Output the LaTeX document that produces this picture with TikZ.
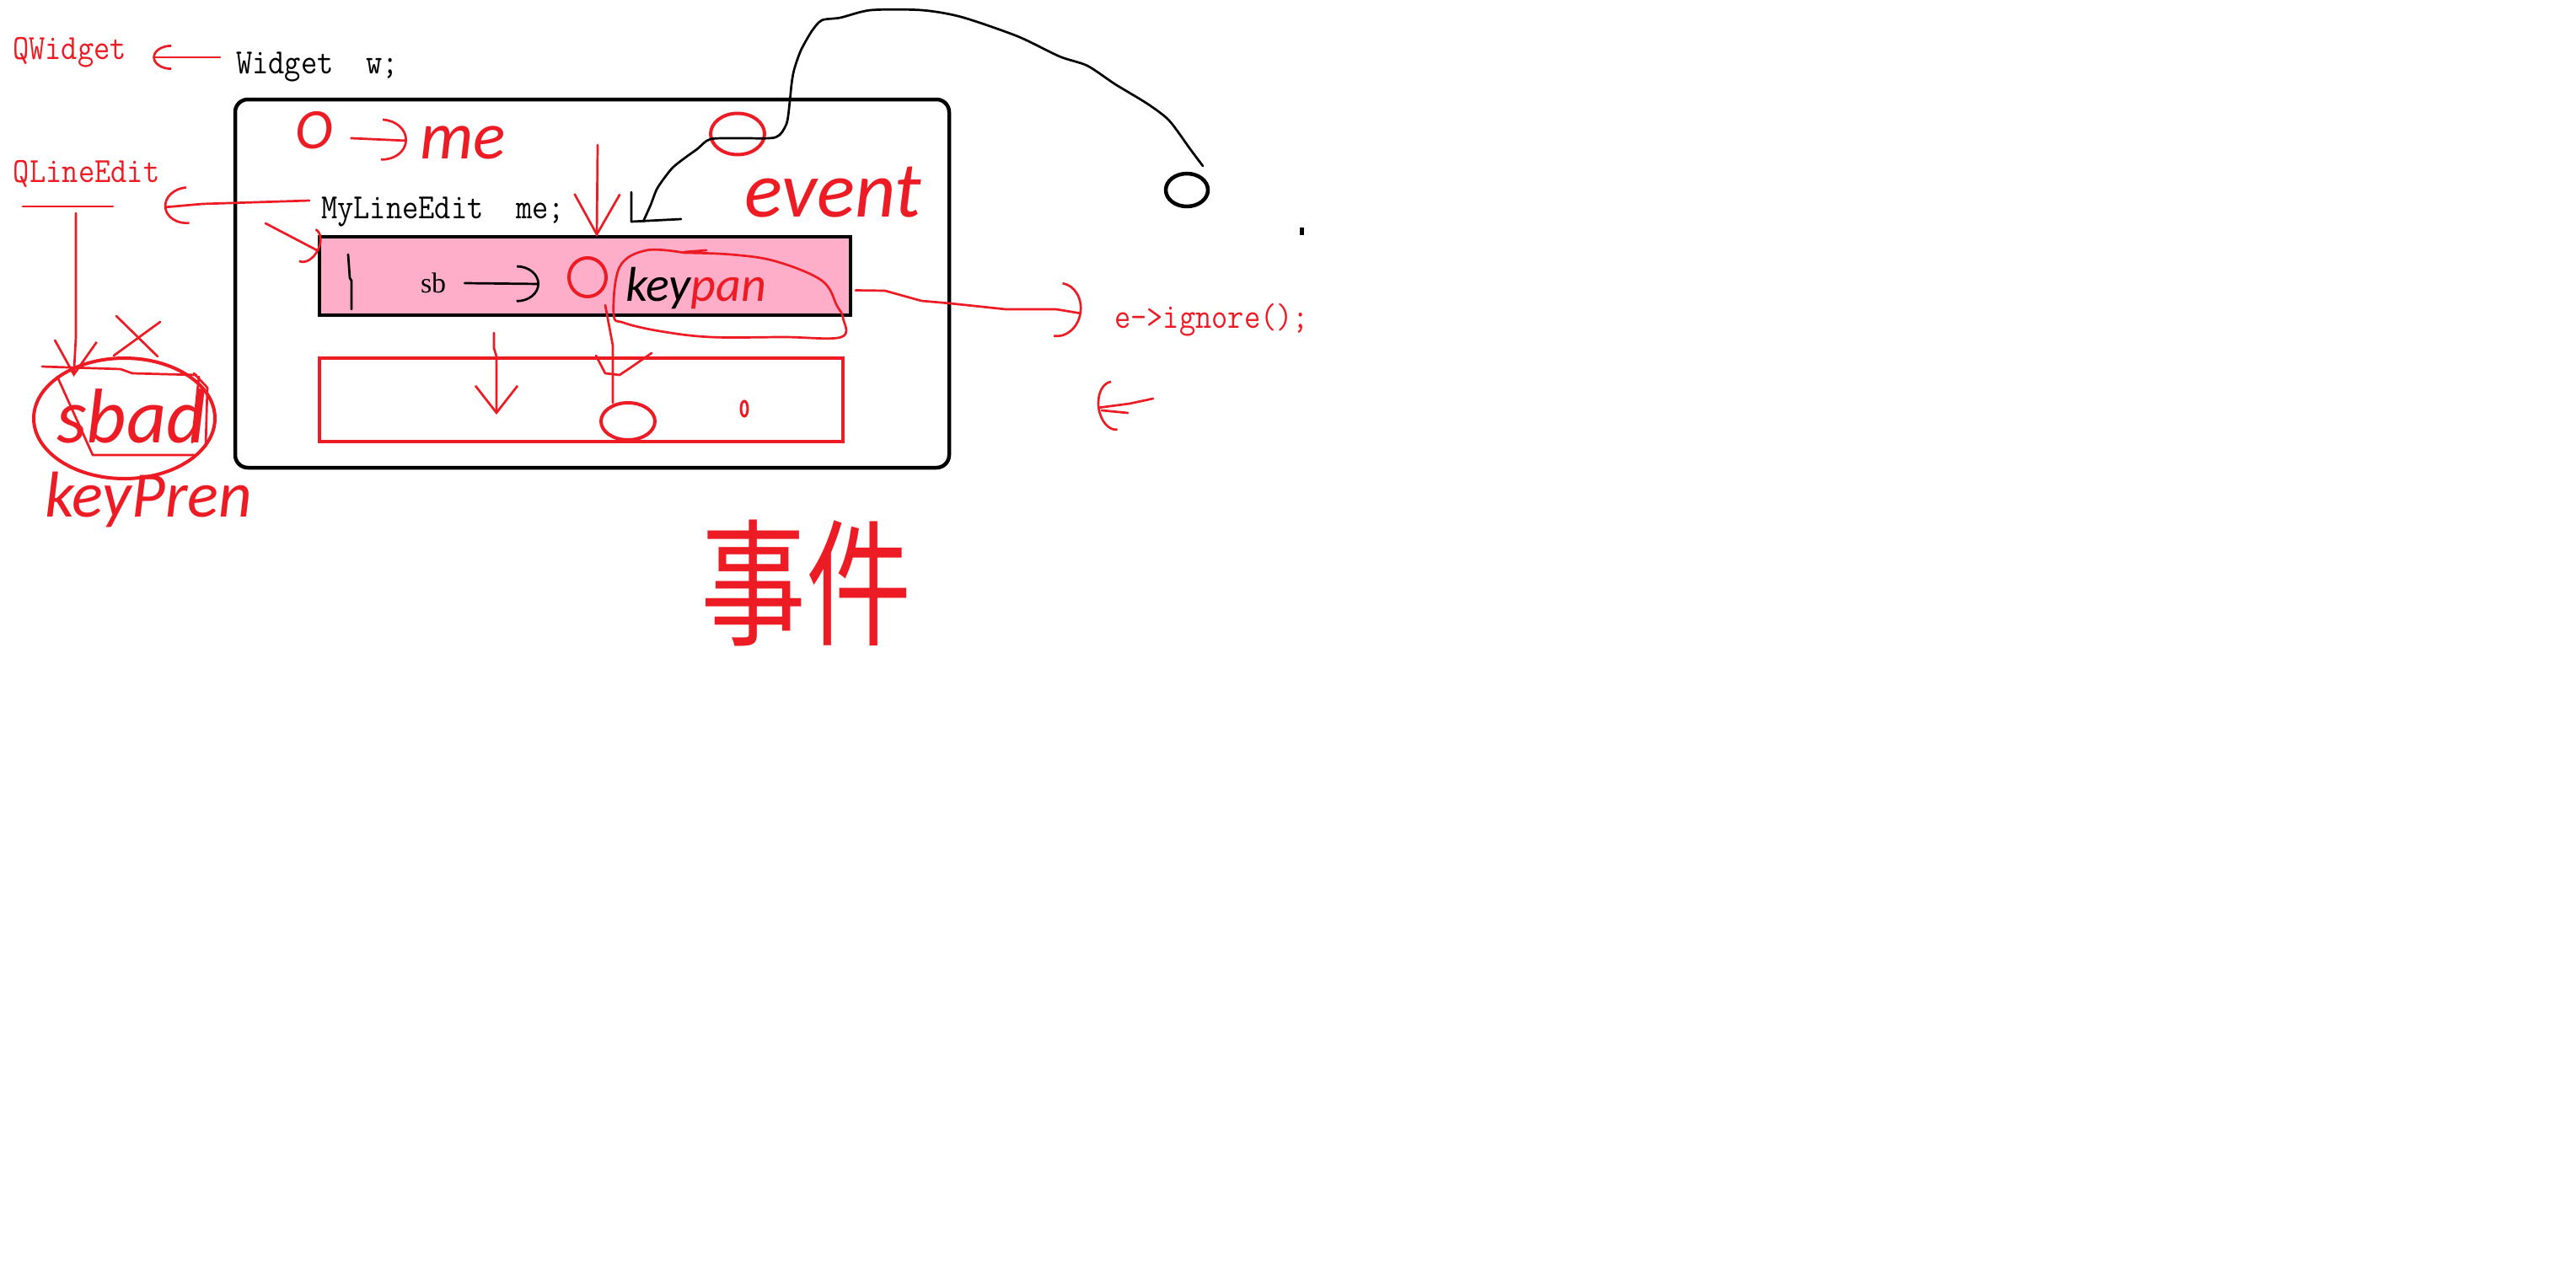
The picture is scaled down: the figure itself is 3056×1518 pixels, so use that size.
\documentclass[tikz,border=0pt]{standalone}
\usepackage{fontspec}
\usepackage{graphicx}
\usetikzlibrary{arrows.meta,shapes.geometric}
\newfontfamily\codefont{Latin Modern Mono}[FakeStretch=0.89]
\newfontfamily\handfont{Carlito}
\newfontfamily\sbfont{Liberation Serif}
\newfontfamily\cjkfont{Noto Sans CJK SC}
\newcommand\handsz[1]{\handfont\itshape\fontsize{#1}{#1}\selectfont}
\definecolor{pen}{HTML}{ED1C24}
\definecolor{rose}{HTML}{FFAEC9}
\tikzset{
 code/.style={font=\codefont\fontsize{42}{48}\selectfont, inner sep=0pt, outer sep=0pt, anchor=base west},
 redpen/.style={draw=pen, line width=2.7pt, line cap=round, line join=round},
 blackpen/.style={draw=black, line width=2.7pt, line cap=round, line join=round},
 hand/.style={text=pen, inner sep=0pt, outer sep=0pt, anchor=base west},
 box/.style={draw, line width=4.5pt, inner sep=0pt, outer sep=0pt, anchor=north west},
 ring/.style={ellipse, draw=pen, line width=4pt, inner sep=0pt, outer sep=0pt},
}
\begin{document}
\begin{tikzpicture}[x=1pt,y=-1pt]
\useasboundingbox (0,0) rectangle (3056,1518);
\fill[white] (0,0) rectangle (3056,1518);

% ---------- boxes ----------
\node[box, rounded corners=15pt, minimum width=847pt, minimum height=437pt] (frame) at (279,118) {};
\node[box, fill=rose, minimum width=630pt, minimum height=93pt] (pinkbox) at (379,281) {};
\node[box, draw=pen, line width=4pt, minimum width=621pt, minimum height=99pt] (redbox) at (379,425) {};

% ---------- rings ----------
\node[ring, minimum width=64pt, minimum height=49pt] (topring) at (875,159) {};
\node[ring, minimum width=44pt, minimum height=46pt] (ring1) at (697,329) {};
\node[ring, minimum width=64pt, minimum height=44pt] (ring2) at (745,500) {};
\node[ring, line width=3pt, minimum width=8pt, minimum height=18pt] (dotring) at (883,485) {};
\node[ring, draw=black, line width=4.5pt, minimum width=50pt, minimum height=39pt] (bring) at (1408,225.5) {};
\node[fill=black, minimum width=5pt, minimum height=9pt, inner sep=0pt] (bdot) at (1544,274) {};
\node[ring, minimum width=215pt, minimum height=143pt] (sbadring) at (147.5,496.5) {};

% ---------- typed texts ----------
\node[code, text=pen] (qwidget) at (15,70) {QWidget};
\node[code] (widget) at (280,87) {Widget\ \ w;};
\node[code, text=pen] (qlineedit) at (16,216) {QLineEdit};
\node[code] (mylineedit) at (381,259) {MyLineEdit\ \ me;};
\node[code, text=pen] (ignore) at (1322,389) {e->ignore();};
\node[inner sep=0pt, outer sep=0pt, anchor=base west, font=\sbfont\fontsize{34}{36}\selectfont] (sb) at (499,347) {sb};

% ---------- handwritten texts ----------
\node[hand, font=\handsz{68}] (oletter) at (350,176) {O};
\node[hand, font=\handsz{80}] (me) at (498,188) {me};
\node[hand, font=\handsz{94}] (event) at (883,257) {event};
\node[hand, font=\handsz{58}] (keypan) at (742,357) {{\color{black}key}pan};
\node[hand, font=\handsz{92}] (sbad) at (67,525) {sbad};
\node[hand, font=\handsz{77}] (keypren) at (53,613) {keyPren};
\node[text=pen, inner sep=0pt] (shijian) at (956,692) {\scalebox{1}[1.3]{\cjkfont\fontsize{125}{130}\selectfont 事件}};

% ---------- connectors ----------
% Widget -> QWidget
\draw[redpen, -{Arc Barb[length=22pt,width=30pt]}]
  ([xshift=-19pt,yshift=19pt]widget.base west) -- ([xshift=31.5pt,yshift=2pt]qwidget.base east);
% MyLineEdit -> QLineEdit
\draw[redpen, -{Arc Barb[length=28pt,width=45pt]}]
  ([xshift=-14pt,yshift=21pt]mylineedit.base west) -- ++(-127,4) -- ([xshift=5.5pt,yshift=-30pt]qlineedit.base east);
% stroke to pink box corner
\coordinate (cS) at (315,265);
\draw[redpen, -{Arc Barb[length=15pt,width=45pt]}] (cS) -- ([xshift=-1pt,yshift=-17pt]pinkbox.north west);
% O -> me
\draw[redpen, -{Arc Barb[length=30pt,width=50pt]}]
  ([xshift=22pt,yshift=12pt]oletter.base east) -- ([xshift=-15pt,yshift=21pt]me.base west);
% down into pink box
\coordinate (eS) at (709,172);
\draw[redpen, -{Straight Barb[length=48pt,width=54pt]}] (eS) -- ([xshift=14pt]pinkbox.north);
% sb -> ring1
\draw[blackpen, -{Arc Barb[length=27pt,width=44pt]}]
  ([xshift=22pt,yshift=11pt]sb.base east) -- ([xshift=-35pt,yshift=-8pt]ring1.west);
% pink box -> e->ignore();
\draw[redpen, -{Arc Barb[length=28pt,width=66pt]}]
  ([xshift=6pt,yshift=-17pt]pinkbox.east) -- (1050,345) -- (1093,357) -- (1127,360)
  -- (1193,367) -- (1253,367) -- ([xshift=-39pt,yshift=17pt]ignore.base west);
% lone left arrow
\coordinate (hS) at (1368,473);
\coordinate (hT) at (1302,484);
\draw[redpen, -{Arc Barb[length=20pt,width=60pt]}] (hS) -- (1340,479) -- (hT);
\draw[redpen] (1307,487) -- (1338,490);
% down arrow in red box
\coordinate (iT) at (589,492);
\draw[redpen, -{Straight Barb[length=32pt,width=50pt]}]
  ([xshift=207pt,yshift=-21pt]pinkbox.south west) -- (586,413) -- (589,423) -- (589,470) -- (iT);
% line to ring2 with V
\coordinate (jS) at (718,362);
\draw[redpen] (jS) -- (727,410) -- ([xshift=-18pt]ring2.north);
\draw[redpen] (707,422) -- (718,443) -- (735,445) -- (747,437) -- (773,419);
% loop around keypan
\draw[redpen] plot[smooth, tension=0.6] coordinates {(812,300) (767,297) (735,317) (728,373) (740,383) (783,393) (843,400) (930,400) (998,400) (1000,377) (993,363) (975,333) (920,310) (867,302) (812,300)};
\draw[redpen] (812,299) -- (838,297);

% black curve
\draw[blackpen] (749,228) -- (749,263) -- (808,260);
\draw[blackpen] plot[smooth, tension=0.45] coordinates {(763,263) (772,243) (780,223) (797,200) (813,187) (827,177) (843,165) (880,164) (920,163) (933,147) (937,120) (939,100) (942,83) (950,60) (963,37) (975,24) (997,21) (1033,12) (1093,12) (1140,20) (1207,43) (1257,67) (1290,78) (1323,100) (1361,123) (1387,143) (1412,177) (1427,197)};

% black stroke inside pink box
\draw[blackpen] (413,302) -- (415,330) -- (417,333) -- (417,367);

% ---------- left group ----------
\coordinate (ulA) at (27,245);
\coordinate (ulB) at (134,245);
\draw[redpen] (ulA) -- (ulB);
\coordinate (ulM) at (90,253);
\draw[redpen, -{Straight Barb[length=40pt,width=50pt]}] (ulM) -- (90,400) -- ([xshift=-60pt,yshift=-22pt]sbadring.north);
\draw[redpen] (138,375) -- (187,423) (190,382) -- (135,422);
\draw[redpen] (50,435) -- (143,438) -- (157,443) -- (233,445);
\draw[redpen] (68,447) -- (110,540) -- (230,540);
\draw[redpen] (230,443) -- (246,460) -- (244,530);
\draw[redpen] (236,447) -- (228,525);
\end{tikzpicture}
\end{document}
